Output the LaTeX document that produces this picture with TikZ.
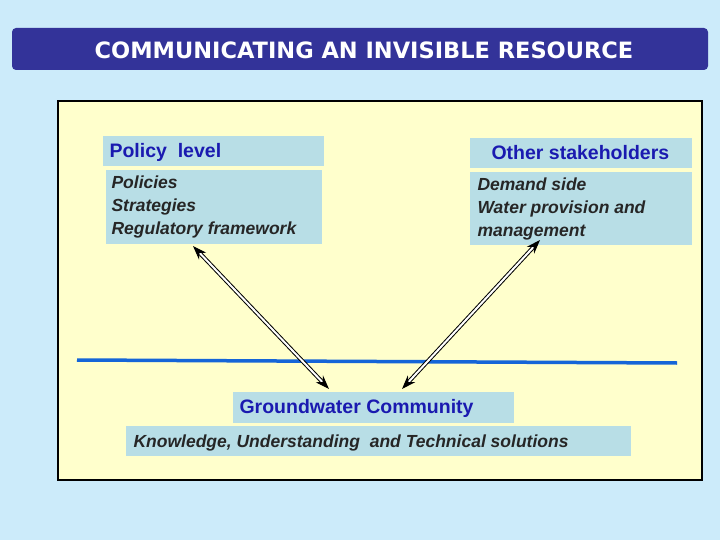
\documentclass[tikz,border=0pt]{standalone}
\usepackage{fontspec}
\setmainfont{Liberation Sans}
\newfontfamily\titlefont{DejaVu Sans}
\usetikzlibrary{arrows.meta}
\definecolor{bgblue}{HTML}{CCEBFA}
\definecolor{barblue}{HTML}{333399}
\definecolor{panel}{HTML}{FFFFCC}
\definecolor{boxblue}{HTML}{B8DEE6}
\definecolor{headblue}{HTML}{1A1AB0}
\definecolor{lineblue}{HTML}{1565D8}
\begin{document}
\begin{tikzpicture}[x=1pt, y=-1pt,
  box/.style={fill=boxblue, draw=none},
  head/.style={text=headblue, font=\bfseries\fontsize{19.5}{22}\selectfont, anchor=west},
  body/.style={font=\bfseries\itshape\fontsize{17.5}{23}\selectfont, anchor=north west, align=left, text=black!85},
  link/.style={double, double distance=2pt, line width=1pt, {Stealth[length=14pt,width=10pt]}-{Stealth[length=14pt,width=10pt]}}]
  % Hintergrund + Titel
  \fill[bgblue] (0,0) rectangle (720,540);
  \fill[barblue, rounded corners=4pt] (12,28) rectangle (708,70);
  \node[text=white, font=\titlefont\bfseries\fontsize{22.5}{26}\selectfont] (title) at (364,50) {COMMUNICATING AN INVISIBLE RESOURCE};
  \filldraw[fill=panel, draw=black, line width=1.5pt] (58,101) rectangle (702,480);

  % linke Seite
  \fill[box] (103,136) rectangle (324,166);
  \node[head] (policy) at (106,152) {Policy\ \ level};
  \fill[box] (106,170) rectangle (322,244);
  \node[body] (policies) at (108,172) {Policies\\Strategies\\Regulatory framework};

  % rechte Seite
  \fill[box] (470,138) rectangle (692,168);
  \node[head] (other) at (488,153) {Other stakeholders};
  \fill[box] (470,172) rectangle (692,245);
  \node[body] (demand) at (474,174) {Demand side\\Water provision and\\management};

  % Grundwasser
  \draw[lineblue, line width=3.5pt] (77,360) -- (677,363);
  \fill[box] (233,392) rectangle (514,423);
  \node[head] (gw) at (236,408) {Groundwater Community};
  \fill[box] (126,426) rectangle (631,456);
  \node[body, anchor=west] (know) at (130,443) {Knowledge, Understanding\ \ and Technical solutions};

  % Pfeile
  \coordinate (pa) at (193,246);
  \coordinate (pb) at (329,389);
  \coordinate (oa) at (540,240);
  \coordinate (ob) at (402,389);
  \draw[link] (pa) -- (pb);
  \draw[link] (oa) -- (ob);
\end{tikzpicture}
\end{document}
